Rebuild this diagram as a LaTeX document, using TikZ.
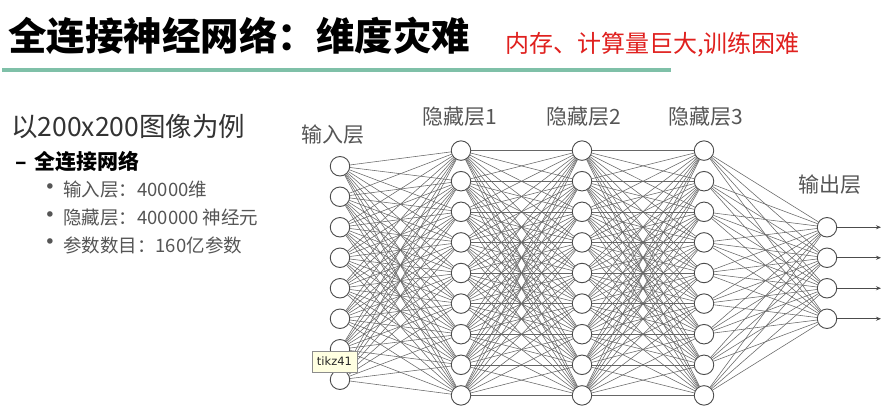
\documentclass[tikz,border=0pt]{standalone}
\usepackage{fontspec}
\newfontfamily\cjk{Noto Sans CJK SC}
\newfontfamily\tipfont{DejaVu Sans}
\usetikzlibrary{arrows.meta,backgrounds}
\definecolor{titlegreen}{HTML}{7FC0A8}
\definecolor{alertred}{HTML}{E0201E}
\definecolor{bodygray}{HTML}{555555}
\definecolor{tipyellow}{HTML}{FFFFE1}
\tikzset{
  neuron/.style={circle,draw=black!70,fill=white,line width=0.9pt,minimum size=19.5pt,inner sep=0pt},
  link/.style={draw=black!60,line width=0.55pt},
  layerlabel/.style={text=bodygray,font=\cjk\fontsize{21}{23}\selectfont,inner sep=0pt},
  item/.style={anchor=west,inner sep=0pt,text=bodygray,font=\cjk\fontsize{18.5}{20}\selectfont},
  bulletmark/.style={inner sep=0pt,text=bodygray,font=\tipfont\fontsize{19}{20}\selectfont},
  outarrow/.style={draw=black!70,line width=0.8pt,-{Stealth[length=5pt,width=4pt]}},
}
\begin{document}
\begin{tikzpicture}[x=1pt,y=-1pt]
\useasboundingbox (0,0) rectangle (892,415);
% title
\node[anchor=west,inner sep=0pt,font=\cjk\bfseries\fontsize{38.5}{41}\selectfont] (title) at (8,36) {全连接神经网络：维度灾难};
\node[anchor=west,inner sep=0pt,text=alertred,font=\cjk\fontsize{24}{26}\selectfont] (alert) at (505,45) {内存、计算量巨大,训练困难};
\draw[titlegreen,line width=4pt] (2,70) coordinate (gl) -- (671,70) coordinate (gr);
% left text
\node[anchor=west,inner sep=0pt,text=black!80,font=\cjk\fontsize{26.5}{28}\selectfont] (t1) at (11,127) {以200x200图像为例};
\node[anchor=west,inner sep=0pt,font=\cjk\bfseries\fontsize{21}{23}\selectfont] (t2) at (15,162) {–\hspace{8pt}全连接网络};
\node[bulletmark] (b1) at (50,189) {•};
\node[bulletmark] (b2) at (50,217) {•};
\node[bulletmark] (b3) at (50,244) {•};
\node[item] (t3) at (63,190) {输入层：40000维};
\node[item] (t4) at (63,218) {隐藏层：400000 神经元};
\node[item] (t5) at (63,245) {参数数目：160亿参数};
% neurons
\foreach \k in {1,...,8} \node[neuron] (i\k) at (340,{273+(\k-4.5)*30.5}) {};
\foreach \k in {1,...,9} {
  \node[neuron] (a\k) at (461,{273+(\k-5)*30.6}) {};
  \node[neuron] (b\k) at (582,{273+(\k-5)*30.6}) {};
  \node[neuron] (c\k) at (704,{273+(\k-5)*30.6}) {};
}
\foreach \k in {1,...,4} \node[neuron] (o\k) at (827,{273+(\k-2.5)*30.5}) {};
% links
\begin{pgfonlayer}{background}
\fill[white] (0,0) rectangle (892,415);
\foreach \m in {1,...,8} \foreach \n in {1,...,9} \draw[link] (i\m) -- (a\n);
\foreach \m in {1,...,9} \foreach \n in {1,...,9} {
  \draw[link] (a\m) -- (b\n);
  \draw[link] (b\m) -- (c\n);
}
\foreach \m in {1,...,9} \foreach \n in {1,...,4} \draw[link] (c\m) -- (o\n);
\end{pgfonlayer}
% outputs
\foreach \k in {1,...,4} {
  \coordinate (e\k) at (881,{273+(\k-2.5)*30.5});
  \draw[outarrow] (o\k) -- (e\k);
}
% layer labels
\node[layerlabel] (li) at (333,135) {输入层};
\node[layerlabel] (la) at (460,117) {隐藏层1};
\node[layerlabel] (lb) at (584,117) {隐藏层2};
\node[layerlabel] (lc) at (706,117) {隐藏层3};
\node[layerlabel] (lo) at (830,185) {输出层};
% tooltip
\node[draw=black!45,fill=tipyellow,line width=0.6pt,minimum width=45pt,minimum height=21pt,inner sep=0pt,font=\tipfont\fontsize{11.5}{12}\selectfont,text=black!85] (tip) at (334.5,361.5) {tikz41};
\end{tikzpicture}
\end{document}
